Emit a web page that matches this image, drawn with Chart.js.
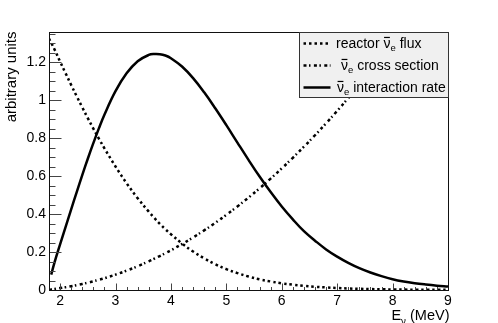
<!DOCTYPE html>
<html><head><meta charset="utf-8">
<script src="https://cdn.jsdelivr.net/npm/chart.js@4/dist/chart.umd.min.js"></script>
<style>html,body{margin:0;padding:0;background:#fff}canvas{display:block}</style>
</head><body>
<canvas id="c" width="498" height="323"></canvas>
<script>
// ---- data ----
const energies = [1.8, 1.84, 1.9, 2.0, 2.1, 2.2, 2.3, 2.4, 2.5, 2.6, 2.7, 2.8, 3.0, 3.2, 3.4, 3.6, 3.7, 3.8, 3.9, 4.0, 4.2, 4.4, 4.6, 4.8, 5.0, 5.2, 5.4, 5.6, 5.8, 6.0, 6.2, 6.4, 6.6, 6.8, 7.0, 7.2, 7.4, 7.6, 7.8, 8.0, 8.2, 8.4, 8.6, 8.8, 9.0];
const reactorFlux = [1.325, 1.303, 1.268, 1.204, 1.142, 1.081, 1.021, 0.963, 0.906, 0.851, 0.798, 0.747, 0.651, 0.563, 0.484, 0.413, 0.380, 0.349, 0.320, 0.294, 0.245, 0.203, 0.167, 0.136, 0.110, 0.089, 0.071, 0.056, 0.045, 0.035, 0.028, 0.022, 0.017, 0.0135, 0.0105, 0.008, 0.0062, 0.0048, 0.0037, 0.0028, 0.0021, 0.0016, 0.0012, 0.0009, 0.0007];
const crossSection = [0, 0.0031, 0.0058, 0.0101, 0.0147, 0.0198, 0.0254, 0.0316, 0.0384, 0.0458, 0.0537, 0.0622, 0.0809, 0.102, 0.1253, 0.151, 0.1648, 0.1791, 0.1939, 0.2094, 0.2421, 0.2771, 0.3144, 0.3541, 0.3961, 0.4404, 0.487, 0.536, 0.5873, 0.6409, 0.6969, 0.7552, 0.8158, 0.8787, 0.944, 1.0116, 1.0815, 1.154, 1.228, 1.305, 1.384, 1.466, 1.55, 1.636, 1.725];
const interactionRate = [null, 0.081, 0.146, 0.241, 0.333, 0.425, 0.516, 0.606, 0.692, 0.774, 0.852, 0.924, 1.048, 1.142, 1.206, 1.239, 1.244, 1.243, 1.236, 1.222, 1.178, 1.117, 1.042, 0.958, 0.869, 0.777, 0.686, 0.598, 0.516, 0.440, 0.372, 0.310, 0.260, 0.214, 0.176, 0.143, 0.115, 0.092, 0.073, 0.057, 0.045, 0.036, 0.029, 0.023, 0.018];
const xTickValues = [2, 3, 4, 5, 6, 7, 8, 9];
const xTickLabels = ["2", "3", "4", "5", "6", "7", "8", "9"];
const yTickValues = [0, 0.2, 0.4, 0.6, 0.8, 1, 1.2];
const yTickLabels = ["0", "0.2", "0.4", "0.6", "0.8", "1", "1.2"];
const xRange = [1.8, 9];
const yRange = [0, 1.36];

const FONT = '"Liberation Sans", Arial, Helvetica, sans-serif';
const DOT = [2.5, 3];
const DASHDOT = [3, 2.5, 1.5, 3.4];

function pts(ys){ return energies.map((e,i)=>({x:e, y:ys[i]})); }

function richText(ctx, x, base, parts, size, measureOnly){
  let w = 0;
  for (const p of parts){
    if (p.sub){
      ctx.font = (size*0.68) + 'px ' + FONT;
      const tw = ctx.measureText(p.t).width;
      if (!measureOnly) ctx.fillText(p.t, x + w, base + size*0.28);
      w += tw;
    } else {
      ctx.font = size + 'px ' + FONT;
      const tw = ctx.measureText(p.t).width;
      if (!measureOnly){
        ctx.fillText(p.t, x + w, base);
        if (p.bar) ctx.fillRect(x + w + 0.6, base - size*0.76, tw - 1.2, 1.2);
      }
      w += tw;
    }
  }
  return w;
}

const legendRows = [
  {dash: DOT, x: 336, parts: [{t:'reactor '},{t:'ν',bar:true},{t:'e',sub:true},{t:' flux'}]},
  {dash: DASHDOT, x: 341, parts: [{t:'ν',bar:true},{t:'e',sub:true},{t:' cross section'}]},
  {dash: [], x: 337, parts: [{t:'ν',bar:true},{t:'e',sub:true},{t:' interaction rate'}]}
];

const rootStyle = {
  id: 'rootStyle',
  afterDatasetsDraw(chart){
    const {ctx, chartArea: a, scales: {x, y}} = chart;
    ctx.save();
    // ticks (inside the frame)
    ctx.strokeStyle = '#444'; ctx.lineWidth = 1;
    ctx.beginPath();
    const bot = Math.round(a.bottom) + 0.5, lft = Math.round(a.left) + 0.5;
    for (let i = 10; i < 45; i++){
      const v = i * 0.2;
      const px = Math.round(x.getPixelForValue(v)) + 0.5;
      const major = Math.abs(v - Math.round(v)) < 1e-6;
      ctx.moveTo(px, bot); ctx.lineTo(px, bot - (major ? 7 : 3.5));
    }
    for (let i = 1; i <= 27; i++){
      const v = i * 0.05;
      const py = Math.round(y.getPixelForValue(v)) + 0.5;
      const major = i % 4 === 0;
      ctx.moveTo(lft, py); ctx.lineTo(lft + (major ? 12 : 6), py);
    }
    ctx.stroke();
    // frame
    ctx.strokeStyle = '#111';
    const L = Math.round(a.left)+0.5, T = Math.round(a.top)+0.5, R = Math.round(a.right)+0.5, B = Math.round(a.bottom)+0.5;
    ctx.strokeRect(L, T, R-L, B-T);
    // legend
    const lw = 149, lh = 65;
    const lx = R - lw, ly = T;
    ctx.fillStyle = '#f0f0f0';
    ctx.fillRect(lx, ly, lw, lh);
    ctx.strokeStyle = '#333';
    ctx.strokeRect(lx, ly, lw, lh);
    legendRows.forEach((row, i) => {
      const cy = ly + 11 + i * 22;
      ctx.strokeStyle = '#000'; ctx.lineWidth = 2.5; ctx.setLineDash(row.dash); ctx.lineCap = 'butt';
      ctx.beginPath(); ctx.moveTo(lx + 4, cy); ctx.lineTo(lx + 31, cy); ctx.stroke();
      ctx.setLineDash([]);
      ctx.fillStyle = '#000'; ctx.textBaseline = 'alphabetic'; ctx.textAlign = 'left';
      richText(ctx, row.x, cy + 4, row.parts, 14);
    });
    // axis titles
    ctx.fillStyle = '#000'; ctx.textAlign = 'left'; ctx.textBaseline = 'alphabetic';
    const xt = [{t:'E'},{t:'ν',sub:true},{t:' (MeV)'}];
    const wx = richText(ctx, 0, 0, xt, 14.5, true);
    richText(ctx, R + 1 - wx, 319.5, xt, 14.5);
    ctx.save();
    ctx.translate(15.5, T - 1);
    ctx.rotate(-Math.PI/2);
    ctx.textAlign = 'right';
    ctx.font = '15px ' + FONT;
    ctx.fillText('arbitrary units', 0, 0);
    ctx.restore();
    ctx.restore();
  }
};

const common = {borderColor:'#000', borderWidth:2.5, pointRadius:0, fill:false, tension:0.4, borderCapStyle:'butt'};

new Chart(document.getElementById('c'), {
  type: 'line',
  data: {
    datasets: [
      Object.assign({label:'reactor flux', data: pts(reactorFlux), borderDash: DOT}, common),
      Object.assign({label:'cross section', data: pts(crossSection), borderDash: DASHDOT}, common),
      Object.assign({label:'interaction rate', data: pts(interactionRate)}, common)
    ]
  },
  options: {
    responsive: false,
    animation: false,
    events: [],
    layout: {padding: {left: 0, top: 32, right: 50, bottom: 0}},
    plugins: {legend: {display:false}, tooltip: {enabled:false}},
    scales: {
      x: {
        type: 'linear', min: xRange[0], max: xRange[1],
        grid: {display:false, drawTicks:false}, border: {display:false},
        afterBuildTicks: s => { s.ticks = xTickValues.map(v => ({value: v})); },
        afterFit: s => { s.height = 33; },
        ticks: {font: {family: FONT, size: 14}, color: '#000', padding: 3, maxRotation: 0,
          callback: (v) => xTickLabels[xTickValues.indexOf(v)]}
      },
      y: {
        type: 'linear', min: yRange[0], max: yRange[1],
        grid: {display:false, drawTicks:false}, border: {display:false},
        afterBuildTicks: s => { s.ticks = yTickValues.map(v => ({value: v})); },
        afterFit: s => { s.width = 49; },
        ticks: {font: {family: FONT, size: 14}, color: '#000', padding: 3,
          callback: (v) => yTickLabels[yTickValues.indexOf(v)]}
      }
    }
  },
  plugins: [rootStyle]
});
</script>
</body></html>
